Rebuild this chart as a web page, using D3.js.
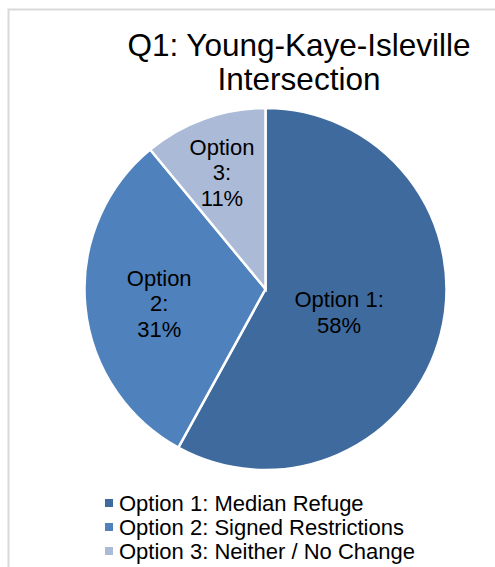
<!DOCTYPE html>
<html lang="en">
    <head>
        <meta charset="utf-8">
        <title>Q1 pie</title>
        <script type="text/javascript" src="https://d3js.org/d3.v7.min.js"></script>
        <style type="text/css">
            body {
                margin: 0;
                background: #ffffff;
            }
            svg {
                font-family: 'Liberation Sans', Arial, sans-serif;
            }
        </style>
    </head>
    <body>
        <script type="text/javascript">

            // data
            const titleLines = ["Q1: Young-Kaye-Isleville", "Intersection"];
            const categories = ["Option 1: Median Refuge", "Option 2: Signed Restrictions", "Option 3: Neither / No Change"];
            const shortNames = ["Option 1:", "Option 2:", "Option 3:"];
            const values = [58, 31, 11];
            const colors = ["#3F6A9E", "#4F81BD", "#AABAD7"];

            // label layout: wrap name onto two lines, distance from centre as fraction of radius
            const labelWrap = [false, true, true];
            const labelDist = [0.42, 0.59, 0.71];

            const W = 495, H = 567;
            const cx = 265.5, cy = 289, radius = 181;

            const svg = d3.select("body")
                    .append("svg")
                    .attr("width", W)
                    .attr("height", H);

            // chart frame (runs off the right and bottom edges)
            svg.append("rect")
                .attr("x", 8.5)
                .attr("y", 9.5)
                .attr("width", 700)
                .attr("height", 700)
                .attr("fill", "none")
                .attr("stroke", "#d9d9d9")
                .attr("stroke-width", 2);

            // title
            svg.append("text")
                .attr("text-anchor", "middle")
                .attr("font-size", "31.5px")
                .attr("fill", "#000")
                .selectAll("tspan")
                .data(titleLines)
                .join("tspan")
                .attr("x", 299)
                .attr("y", (d, i) => 56 + i * 34)
                .text(d => d);

            const pie = d3.pie().sort(null).value(d => d);
            const arcs = pie(values);
            const arc = d3.arc().innerRadius(0).outerRadius(radius);

            const g = svg.append("g")
                    .attr("transform", "translate(" + cx + "," + cy + ")");

            g.selectAll("path")
                .data(arcs)
                .join("path")
                .attr("d", arc)
                .attr("fill", (d, i) => colors[i])
                .attr("stroke", "#fff")
                .attr("stroke-width", 2.5)
                .attr("stroke-linejoin", "miter");

            // data labels
            const lineH = 25.5;
            const labels = g.selectAll("text.lbl")
                    .data(arcs)
                    .join("text")
                    .attr("class", "lbl")
                    .attr("text-anchor", "middle")
                    .attr("font-size", "22px")
                    .attr("fill", "#000");

            labels.each(function(d, i) {
                const mid = (d.startAngle + d.endAngle) / 2;
                const r = radius * labelDist[i];
                const x = Math.sin(mid) * r;
                const y = -Math.cos(mid) * r;
                const name = shortNames[i];
                const lines = labelWrap[i]
                        ? [name.split(" ")[0], name.split(" ")[1], values[i] + "%"]
                        : [name, values[i] + "%"];
                const top = y - (lines.length - 1) * lineH / 2 + 12;
                d3.select(this).selectAll("tspan")
                    .data(lines)
                    .join("tspan")
                    .attr("x", x)
                    .attr("y", (t, j) => top + j * lineH)
                    .text(t => t);
            });

            // legend
            const legend = svg.append("g")
                    .attr("transform", "translate(105,511)");

            const items = legend.selectAll("g")
                    .data(categories)
                    .join("g")
                    .attr("transform", (d, i) => "translate(0," + i * 24 + ")");

            items.append("rect")
                .attr("x", 0)
                .attr("y", -12)
                .attr("width", 8)
                .attr("height", 8)
                .attr("fill", (d, i) => colors[i]);

            items.append("text")
                .attr("x", 14)
                .attr("y", 0)
                .attr("font-size", "22px")
                .attr("fill", "#000")
                .text(d => d);

        </script>
    </body>
</html>
